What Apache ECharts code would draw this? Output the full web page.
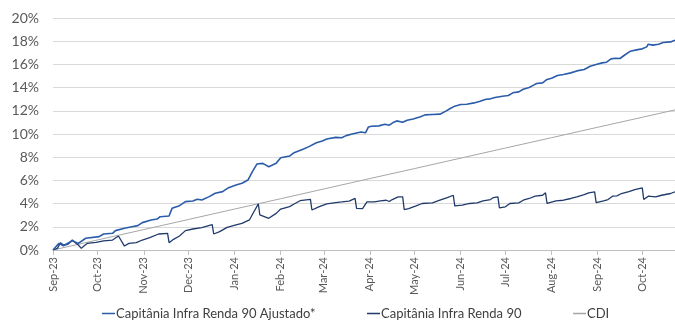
<!DOCTYPE html>
<html>
<head>
<meta charset="utf-8">
<script src="https://cdn.jsdelivr.net/npm/echarts@6/dist/echarts.min.js"></script>
<style>
  html, body { margin: 0; padding: 0; background: #fff; }
  #chart { width: 675px; height: 320px; }
</style>
</head>
<body>
<div id="chart"></div>
<script>
// Rentabilidade acumulada (%) — dias corridos contados a partir de 01/09/2023
const startDate = Date.UTC(2023, 8, 1);
const dayMs = 86400000;
const lastDay = 418;

const seriesNames = ['Capitânia Infra Renda 90 Ajustado*', 'Capitânia Infra Renda 90', 'CDI'];
const monthNames = ['Jan', 'Feb', 'Mar', 'Apr', 'May', 'Jun', 'Jul', 'Aug', 'Sep', 'Oct', 'Nov', 'Dec'];
const yTicks = [0, 2, 4, 6, 8, 10, 12, 14, 16, 18, 20];

// Capitânia Infra Renda 90 Ajustado*
const ajustadoDias = [0, 4, 7, 13, 17, 22, 31, 34, 40, 42, 48, 53, 57, 60, 66, 70, 72, 78, 80, 85, 89, 94, 97, 100, 105, 109, 114, 118, 123, 127, 131, 134, 137, 141, 145, 150, 153, 159, 162, 168, 172, 177, 181, 184, 190, 194, 197, 201, 207, 210, 212, 214, 219, 223, 226, 229, 231, 235, 238, 242, 247, 250, 255, 260, 264, 267, 270, 274, 278, 283, 287, 291, 294, 297, 302, 306, 309, 313, 316, 320, 323, 325, 329, 332, 335, 339, 343, 348, 352, 357, 361, 365, 369, 372, 375, 378, 381, 384, 388, 392, 396, 399, 400, 403, 407, 410, 415, 418];
const ajustadoPct = [0, 0.57, 0.37, 0.80, 0.57, 1.01, 1.15, 1.38, 1.44, 1.67, 1.87, 2.01, 2.10, 2.36, 2.59, 2.67, 2.87, 2.93, 3.59, 3.82, 4.17, 4.22, 4.37, 4.31, 4.60, 4.89, 5.03, 5.37, 5.60, 5.75, 6.03, 6.75, 7.41, 7.47, 7.18, 7.47, 7.96, 8.10, 8.39, 8.68, 8.91, 9.25, 9.40, 9.57, 9.71, 9.68, 9.86, 10.00, 10.18, 10.10, 10.61, 10.67, 10.70, 10.84, 10.76, 11.02, 11.13, 11.02, 11.19, 11.30, 11.48, 11.65, 11.68, 11.71, 11.97, 12.20, 12.40, 12.54, 12.57, 12.68, 12.83, 13.00, 13.03, 13.14, 13.26, 13.32, 13.55, 13.63, 13.86, 14.01, 14.21, 14.35, 14.41, 14.70, 14.81, 15.04, 15.13, 15.27, 15.44, 15.56, 15.84, 15.99, 16.13, 16.19, 16.48, 16.53, 16.51, 16.79, 17.14, 17.25, 17.34, 17.51, 17.74, 17.66, 17.74, 17.89, 17.94, 18.09];

// Capitânia Infra Renda 90
const infraDias = [0, 3, 5, 7, 10, 13, 15, 17, 19, 21, 23, 29, 34, 40, 44, 48, 51, 56, 60, 65, 71, 77, 78, 81, 85, 89, 94, 100, 107, 108, 112, 117, 123, 127, 132, 135, 138, 139, 145, 150, 153, 159, 162, 166, 173, 174, 179, 184, 190, 194, 199, 203, 204, 208, 211, 216, 220, 224, 226, 228, 232, 235, 236, 239, 244, 248, 255, 260, 265, 269, 270, 275, 280, 285, 289, 294, 296, 299, 300, 304, 307, 313, 316, 320, 324, 329, 331, 332, 338, 343, 348, 352, 357, 360, 364, 365, 370, 373, 376, 379, 382, 387, 391, 396, 397, 400, 405, 409, 415, 418];
const infraPct = [0, 0.14, 0.63, 0.43, 0.49, 0.86, 0.63, 0.43, 0.14, 0.37, 0.57, 0.66, 0.78, 0.86, 1.21, 0.34, 0.57, 0.63, 0.86, 1.06, 1.38, 1.44, 0.63, 0.92, 1.21, 1.67, 1.81, 1.93, 2.18, 1.38, 1.58, 1.95, 2.16, 2.30, 2.59, 3.30, 3.97, 3.02, 2.73, 3.16, 3.53, 3.74, 3.97, 4.25, 4.37, 3.45, 3.74, 3.97, 4.08, 4.14, 4.22, 4.45, 3.59, 3.57, 4.15, 4.15, 4.24, 4.29, 4.18, 4.35, 4.58, 4.58, 3.49, 3.57, 3.80, 4.01, 4.06, 4.29, 4.52, 4.72, 3.80, 3.86, 4.01, 4.06, 4.24, 4.35, 4.52, 4.58, 3.63, 3.72, 4.01, 4.06, 4.29, 4.44, 4.64, 4.72, 4.93, 4.01, 4.24, 4.29, 4.44, 4.58, 4.78, 4.93, 5.01, 4.09, 4.24, 4.35, 4.64, 4.67, 4.87, 5.04, 5.21, 5.36, 4.35, 4.64, 4.58, 4.72, 4.87, 5.01];

// CDI acumulado no início de cada mês
const cdiDias = [0, 30, 61, 91, 122, 153, 182, 213, 243, 274, 304, 335, 366, 396, 418];
const cdiPct = [0, 0.87, 1.76, 2.63, 3.53, 4.42, 5.26, 6.16, 7.02, 7.92, 8.79, 9.68, 10.58, 11.44, 12.08];

function pairs(days, values) {
  return days.map((d, i) => [startDate + d * dayMs, values[i]]);
}

const font = 'Lato, "Open Sans", sans-serif';
const colorAjustado = '#2a5caa';
const colorInfra = '#1f3a6b';
const colorCdi = '#a6a6a6';

const chart = echarts.init(document.getElementById('chart'), null, { renderer: 'canvas' });

// legend marker sits right against its label
const legendBase = {
  top: 302,
  icon: 'rect',
  itemWidth: 13,
  itemHeight: 1.5,
  textStyle: { fontFamily: font, fontSize: 13, color: '#404040', padding: [0, 0, 0, -4] }
};

function lineSeries(name, data, color, width, z) {
  return {
    name: name, type: 'line', data: data, z: z,
    showSymbol: false, symbol: 'none',
    itemStyle: { color: color },
    lineStyle: { width: width, color: color }
  };
}

chart.setOption({
  useUTC: true,
  animation: false,
  grid: { left: 53, right: 0, top: 18, bottom: 70 },
  legend: [
    Object.assign({ left: 97, data: [seriesNames[0]] }, legendBase),
    Object.assign({ left: 362, data: [seriesNames[1]] }, legendBase),
    Object.assign({ left: 568, data: [seriesNames[2]] }, legendBase)
  ],
  xAxis: {
    type: 'time',
    min: startDate,
    max: startDate + lastDay * dayMs,
    splitNumber: 14,
    minInterval: 28 * dayMs,
    maxInterval: 31 * dayMs,
    axisLine: { lineStyle: { color: '#bfbfbf', width: 1 } },
    axisTick: { show: true, length: 5, lineStyle: { color: '#bfbfbf' } },
    splitLine: { show: false },
    axisLabel: {
      rotate: 90,
      margin: 7,
      fontFamily: font,
      fontSize: 11,
      color: '#595959',
      showMinLabel: true,
      showMaxLabel: false,
      formatter: function (v) {
        const d = new Date(v);
        return monthNames[d.getUTCMonth()] + '-' + String(d.getUTCFullYear()).slice(2);
      }
    }
  },
  yAxis: {
    type: 'value',
    min: yTicks[0],
    max: yTicks[yTicks.length - 1],
    interval: 2,
    axisLine: { show: false },
    axisTick: { show: false },
    splitLine: { lineStyle: { color: '#d9d9d9', width: 1 } },
    axisLabel: {
      margin: 14,
      fontFamily: font,
      fontSize: 14,
      color: '#595959',
      formatter: '{value}%'
    }
  },
  series: [
    lineSeries(seriesNames[2], pairs(cdiDias, cdiPct), colorCdi, 1, 1),
    lineSeries(seriesNames[1], pairs(infraDias, infraPct), colorInfra, 1.3, 2),
    lineSeries(seriesNames[0], pairs(ajustadoDias, ajustadoPct), colorAjustado, 1.6, 3)
  ]
});
</script>
</body>
</html>
